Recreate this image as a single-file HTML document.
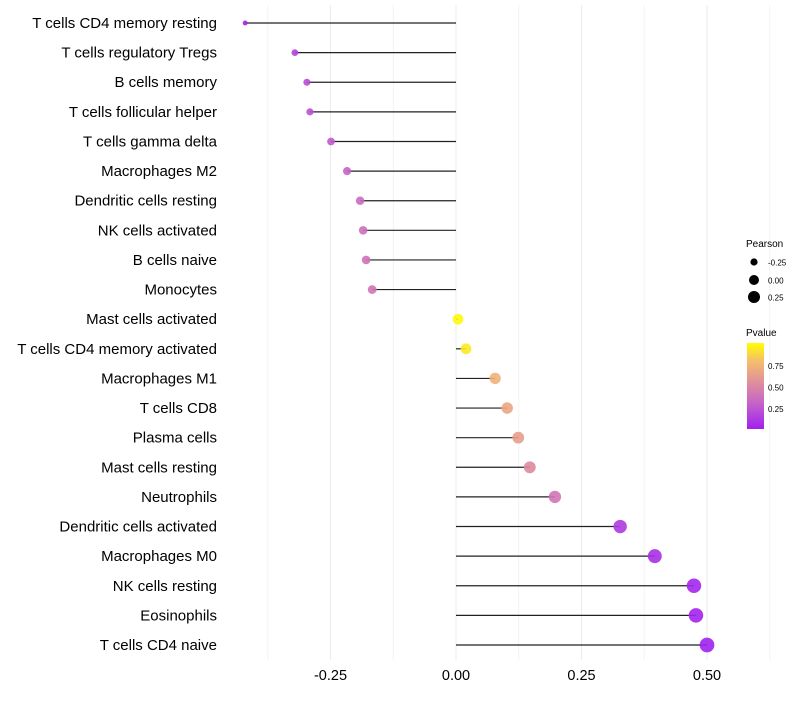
<!DOCTYPE html>
<html><head><meta charset="utf-8"><style>
body{margin:0;background:#fff;font-family:"Liberation Sans",sans-serif}
svg text{font-family:"Liberation Sans",sans-serif}
</style></head><body>
<svg id="chart" width="800" height="700" xmlns="http://www.w3.org/2000/svg">
<defs><linearGradient id="pg" x1="0" y1="1" x2="0" y2="0">
<stop offset="0" stop-color="#a020f0"/><stop offset="0.3" stop-color="#c663c8"/><stop offset="0.55" stop-color="#e0909a"/><stop offset="0.8" stop-color="#f5c068"/><stop offset="1" stop-color="#ffff00"/></linearGradient></defs>
<g id="grid"></g><g id="marks"></g><g id="labels"></g>
<g>
<text x="746" y="247" font-size="10">Pearson</text>
<circle cx="754" cy="262" r="3.6" fill="#000"/>
<text x="768" y="265.5" font-size="8">-0.25</text>
<circle cx="754" cy="280" r="5" fill="#000"/>
<text x="768" y="283.5" font-size="8">0.00</text>
<circle cx="754" cy="297" r="6" fill="#000"/>
<text x="768" y="300.5" font-size="8">0.25</text>
<text x="746" y="336" font-size="10">Pvalue</text>
<rect x="747" y="343" width="17" height="86" fill="url(#pg)"/>
<text x="768" y="369" font-size="8">0.75</text>
<text x="768" y="390.5" font-size="8">0.50</text>
<text x="768" y="412" font-size="8">0.25</text>
</g>
</svg>
<script>
const categories=["T cells CD4 memory resting","T cells regulatory  Tregs ","B cells memory","T cells follicular helper","T cells gamma delta","Macrophages M2","Dendritic cells resting","NK cells activated","B cells naive","Monocytes","Mast cells activated","T cells CD4 memory activated","Macrophages M1","T cells CD8","Plasma cells","Mast cells resting","Neutrophils","Dendritic cells activated","Macrophages M0","NK cells resting","Eosinophils","T cells CD4 naive"];
const pearson=[-0.420,-0.321,-0.297,-0.291,-0.249,-0.217,-0.191,-0.185,-0.179,-0.167,0.004,0.020,0.078,0.102,0.124,0.147,0.197,0.327,0.396,0.474,0.478,0.500];
const pvalue=[0.02,0.15,0.2,0.22,0.26,0.3,0.35,0.37,0.38,0.4,0.98,0.93,0.72,0.67,0.62,0.52,0.4,0.12,0.07,0.03,0.02,0.01];
const tickValues=[-0.25,0,0.25,0.5];
const tickLabels=["-0.25","0.00","0.25","0.50"];
const NS="http://www.w3.org/2000/svg";
const x=v=>456+v*502;
const y=i=>23+i*(622/21);
function el(t,a,p){const e=document.createElementNS(NS,t);for(const k in a)e.setAttribute(k,a[k]);document.getElementById(p).appendChild(e);return e;}
const stops=[[0,[160,32,240]],[0.3,[198,99,200]],[0.55,[224,144,154]],[0.8,[245,192,104]],[1,[255,255,0]]];
function col(p){for(let i=1;i<stops.length;i++){if(p<=stops[i][0]){const a=stops[i-1],b=stops[i],t=(p-a[0])/(b[0]-a[0]);return "rgb("+a[1].map((c,j)=>Math.round(c+(b[1][j]-c)*t)).join(",")+")";}}return "rgb(255,255,0)";}
for(let g=-0.375;g<=0.626;g+=0.125){
 const ln=el("line",{x1:x(g),x2:x(g),y1:5,y2:660,stroke:Math.abs(g/0.25-Math.round(g/0.25))<0.01?"#ebebeb":"#f3f3f3","stroke-width":1},"grid");
 
 
}
tickValues.forEach((v,i)=>{
 const t=el("text",{x:x(v),y:680,"font-size":14.5,"text-anchor":"middle",fill:"#000"},"labels");t.textContent=tickLabels[i];
 
 
});
categories.forEach((c,i)=>{
 const t=el("text",{x:217,y:y(i)+5,"font-size":15,"text-anchor":"end",fill:"#000","xml:space":"preserve"},"labels");t.textContent=c;
 
 
 const l=el("line",{x1:x(0),x2:x(pearson[i]),y1:y(i),y2:y(i),stroke:"#222","stroke-width":1.2},"marks");
 
 
 const r=Math.sqrt(Math.max(3,28+52*pearson[i]));
 const d=el("circle",{cx:x(pearson[i]),cy:y(i),r:r,fill:col(pvalue[i]),"fill-opacity":0.9},"marks");
 
 
});
</script>
</body></html>
